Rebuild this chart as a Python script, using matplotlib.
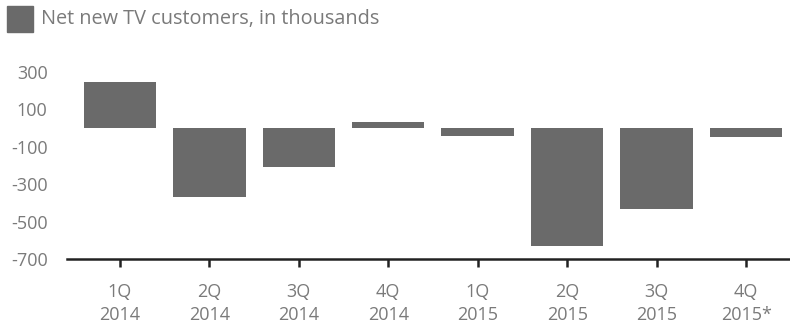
import numpy as np
import matplotlib.pyplot as plt
from matplotlib.patches import Rectangle

plt.rcParams['font.family'] = ['Open Sans', 'DejaVu Sans']

# Net new TV customers, in thousands
quarters = ['1Q\n2014', '2Q\n2014', '3Q\n2014', '4Q\n2014',
            '1Q\n2015', '2Q\n2015', '3Q\n2015', '4Q\n2015*']
net_adds = [247, -368, -210, 30, -45, -628, -435, -50]
y_ticks = [300, 100, -100, -300, -500, -700]

bar_color = '#6a6a6a'
text_color = '#7a7a7a'

fig = plt.figure(figsize=(7.9, 3.24), dpi=100)
ax = fig.add_axes([67 / 790, 65 / 324, 723 / 790, 192 / 324])

x = np.arange(len(quarters))
ax.bar(x, net_adds, width=0.81, color=bar_color, zorder=2)

ax.set_xlim(-0.59, 7.49)
ax.set_ylim(-700, 325)
ax.set_yticks(y_ticks)
ax.set_yticklabels([str(v) for v in y_ticks])
ax.set_xticks(x)
ax.set_xticklabels(quarters, linespacing=1.35)

for s in ['top', 'right', 'left']:
    ax.spines[s].set_visible(False)
ax.spines['bottom'].set_color('#222222')
ax.spines['bottom'].set_linewidth(1.8)

ax.tick_params(axis='y', length=0, pad=14, labelsize=13, labelcolor=text_color)
ax.tick_params(axis='x', direction='out', length=6, width=1.8, color='#222222',
               pad=11, labelsize=13, labelcolor=text_color)

# legend-like header
fig.patches.append(Rectangle((7 / 790, 1 - 32 / 324), 26 / 790, 26 / 324,
                             transform=fig.transFigure, color=bar_color))
fig.text(41 / 790, 1 - 19 / 324, 'Net new TV customers, in thousands',
         fontsize=14.3, color=text_color, va='center', ha='left')

plt.savefig('out.png', dpi=100)
